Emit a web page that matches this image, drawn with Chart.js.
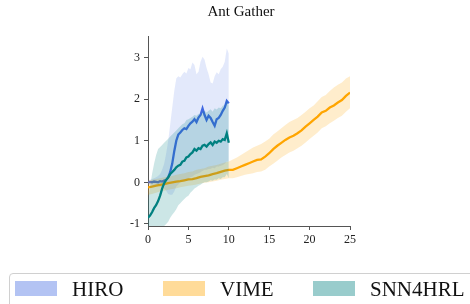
<!DOCTYPE html>
<html>
<head>
<meta charset="utf-8">
<script src="https://cdn.jsdelivr.net/npm/chart.js@4/dist/chart.umd.min.js"></script>
<style>
  body { margin: 0; background: #fff; }
  #wrap { position: relative; width: 470px; height: 304px; overflow: hidden; font-family: "Liberation Serif", "DejaVu Serif", serif; }
  #title { position: absolute; top: 3px; left: 141px; width: 200px; text-align: center; font-size: 15px; color: #111; }
  #legend { position: absolute; left: 9px; top: 273px; width: 480px; height: 40px; border: 1.5px solid #d0d0d0; border-radius: 4px; box-sizing: border-box; }
  .item { position: absolute; top: 6px; height: 18px; font-size: 21px; line-height: 18px; color: #111; }
  .patch { position: absolute; top: 1px; width: 42px; height: 15px; }
  .lbl { position: absolute; left: 57px; top: 0; white-space: nowrap; }
</style>
</head>
<body>
<div id="wrap">
  <canvas id="chart" width="470" height="304"></canvas>
  <div id="title">Ant Gather</div>
  <div id="legend"></div>
</div>
<script>
// sample steps (millions of env steps)
const shortSteps = [0,0.25,0.5,0.75,1,1.25,1.5,1.75,2,2.25,2.5,2.75,3,3.25,3.5,3.75,4,4.25,4.5,4.75,5,
  5.25,5.5,5.75,6,6.25,6.5,6.75,7,7.25,7.5,7.75,8,8.25,8.5,8.75,9,9.25,9.5,9.75,10]
const longSteps = [0,0.5,1,1.5,2,2.5,3,3.5,4,4.5,5,5.5,6,6.5,7,7.5,8,8.5,9,9.5,10,10.5,11,11.5,12,12.5,
  13,13.5,14,14.5,15,15.5,16,16.5,17,17.5,18,18.5,19,19.5,20,20.5,21,21.5,22,22.5,23,23.5,24,24.5,25]

const hiroMean = [0.0,0.01,0.0,0.02,0.01,0.0,0.03,0.02,0.04,0.06,0.12,0.25,0.45,0.75,1.0,1.15,1.2,1.26,1.3,1.28,1.36,
  1.42,1.46,1.52,1.45,1.56,1.62,1.78,1.62,1.5,1.6,1.55,1.45,1.36,1.52,1.55,1.62,1.72,1.8,1.96,1.9]
const hiroUpper = [0.05,0.06,0.08,0.1,0.12,0.15,0.2,0.3,0.45,0.7,1.0,1.4,1.8,2.2,2.5,2.55,2.52,2.6,2.66,2.62,2.75,
  2.72,2.88,2.82,2.6,2.66,2.9,3.02,2.95,2.75,2.6,2.4,2.38,2.55,2.65,2.6,2.72,2.78,2.9,3.22,3.1]
const hiroLower = [-0.05,-0.05,-0.06,-0.06,-0.07,-0.08,-0.1,-0.12,-0.15,-0.2,-0.28,-0.3,-0.3,-0.22,-0.1,-0.05,0.0,0.03,0.05,0.06,0.1,
  0.12,0.14,0.18,0.2,0.22,0.24,0.28,0.3,0.3,0.32,0.33,0.35,0.34,0.38,0.38,0.4,0.42,0.45,0.5,0.5]

const vimeMean = [-0.12,-0.1,-0.08,-0.06,-0.04,-0.02,0.0,0.02,0.03,0.05,0.07,0.08,0.1,0.13,0.15,0.17,0.2,0.22,0.25,0.28,0.3,
  0.3,0.34,0.38,0.42,0.46,0.5,0.54,0.55,0.62,0.7,0.8,0.88,0.95,1.02,1.08,1.12,1.18,1.25,1.34,1.42,
  1.5,1.58,1.68,1.72,1.8,1.85,1.92,1.98,2.08,2.16]
const vimeUpper = [0.05,0.06,0.08,0.1,0.12,0.14,0.15,0.18,0.2,0.22,0.25,0.26,0.3,0.32,0.34,0.38,0.4,0.42,0.45,0.48,0.5,
  0.55,0.6,0.66,0.72,0.78,0.84,0.88,0.92,0.98,1.05,1.15,1.22,1.3,1.38,1.45,1.5,1.55,1.62,1.7,1.78,
  1.85,1.95,2.05,2.1,2.2,2.28,2.35,2.4,2.5,2.55]
const vimeLower = [-0.3,-0.28,-0.25,-0.22,-0.2,-0.18,-0.16,-0.14,-0.12,-0.1,-0.08,-0.07,-0.05,-0.03,-0.01,0.0,0.02,0.04,0.06,0.08,0.1,
  0.1,0.12,0.15,0.18,0.2,0.22,0.25,0.26,0.3,0.38,0.45,0.52,0.6,0.66,0.72,0.76,0.82,0.88,0.96,1.04,
  1.12,1.2,1.3,1.35,1.42,1.48,1.55,1.6,1.7,1.78]

const snnMean = [-0.85,-0.8,-0.72,-0.62,-0.55,-0.45,-0.32,-0.15,-0.02,0.06,0.12,0.2,0.25,0.3,0.36,0.4,0.42,0.5,0.52,0.6,0.62,
  0.68,0.72,0.8,0.76,0.82,0.8,0.88,0.9,0.86,0.92,0.96,0.9,0.98,0.95,1.0,0.98,1.04,1.02,1.18,0.95]
const snnUpper = [-0.45,-0.1,0.2,0.45,0.65,0.8,0.85,0.9,0.95,1.0,1.05,1.1,1.15,1.2,1.25,1.3,1.35,1.4,1.42,1.5,1.52,
  1.55,1.58,1.62,1.6,1.65,1.62,1.7,1.72,1.68,1.72,1.76,1.7,1.78,1.75,1.8,1.78,1.84,1.86,2.0,1.85]
const snnLower = [-1.1,-1.1,-1.1,-1.1,-1.1,-1.1,-1.1,-1.08,-1.05,-1.0,-0.95,-0.85,-0.78,-0.72,-0.65,-0.55,-0.5,-0.45,-0.4,-0.35,-0.32,
  -0.25,-0.2,-0.15,-0.12,-0.08,-0.06,-0.02,0.0,0.0,0.02,0.05,0.04,0.07,0.06,0.1,0.08,0.12,0.12,0.2,0.1]

const methods = ['HIRO', 'VIME', 'SNN4HRL']
const lineColors = ['#4169e1', '#ffa500', '#008080']
const bandColors = ['rgba(65,105,225,0.15)', 'rgba(255,165,0,0.2)', 'rgba(0,128,128,0.2)']
const patchColors = ['rgba(65,105,225,0.4)', 'rgba(255,165,0,0.4)', 'rgba(0,128,128,0.4)']

function pts(xs, ys) {
  return ys.map((y, i) => ({ x: xs[i], y: y }))
}

const series = [
  { xs: shortSteps, mean: hiroMean, lo: hiroLower, hi: hiroUpper },
  { xs: longSteps, mean: vimeMean, lo: vimeLower, hi: vimeUpper },
  { xs: shortSteps, mean: snnMean, lo: snnLower, hi: snnUpper }
]

const datasets = []
series.forEach((s, k) => {
  let base = (2 - k) * 3
  datasets.push({ label: methods[k] + ' lo', data: pts(s.xs, s.lo), borderWidth: 0, pointRadius: 0, fill: false, order: base + 2 })
  datasets.push({ label: methods[k] + ' hi', data: pts(s.xs, s.hi), borderWidth: 0, pointRadius: 0,
    backgroundColor: bandColors[k], fill: '-1', order: base + 1 })
  datasets.push({ label: methods[k], data: pts(s.xs, s.mean), borderColor: lineColors[k], borderWidth: 2.3,
    pointRadius: 0, fill: false, order: base })
})

const tickFont = { family: '"Liberation Serif", serif', size: 12 }

new Chart(document.getElementById('chart'), {
  type: 'line',
  data: { datasets: datasets },
  options: {
    responsive: false,
    animation: false,
    layout: { padding: { top: 36, right: 120, left: 0, bottom: 0 } },
    plugins: { legend: { display: false }, tooltip: { enabled: false } },
    elements: { line: { tension: 0 } },
    scales: {
      x: {
        type: 'linear', min: 0, max: 25,
        ticks: { stepSize: 5, font: tickFont, color: '#222', padding: 3, maxRotation: 0 },
        grid: { drawOnChartArea: false, tickLength: 4, color: '#555' },
        border: { color: '#555' },
        afterFit: (s) => { s.height = 78 }
      },
      y: {
        min: -1.05, max: 3.52,
        ticks: { font: tickFont, color: '#222', padding: 4 },
        afterBuildTicks: (s) => { s.ticks = [-1, 0, 1, 2, 3].map(v => ({ value: v })) },
        grid: { drawOnChartArea: false, tickLength: 4, color: '#555' },
        border: { color: '#555' },
        afterFit: (s) => { s.width = 148 }
      }
    }
  }
})

// legend
const legendEl = document.getElementById('legend')
const itemLeft = [5, 153, 303]
methods.forEach((m, k) => {
  const it = document.createElement('div')
  it.className = 'item'
  it.style.left = itemLeft[k] + 'px'
  it.innerHTML = '<div class="patch" style="background:' + patchColors[k] + '"></div><div class="lbl">' + m + '</div>'
  legendEl.appendChild(it)
})
</script>
</body>
</html>
